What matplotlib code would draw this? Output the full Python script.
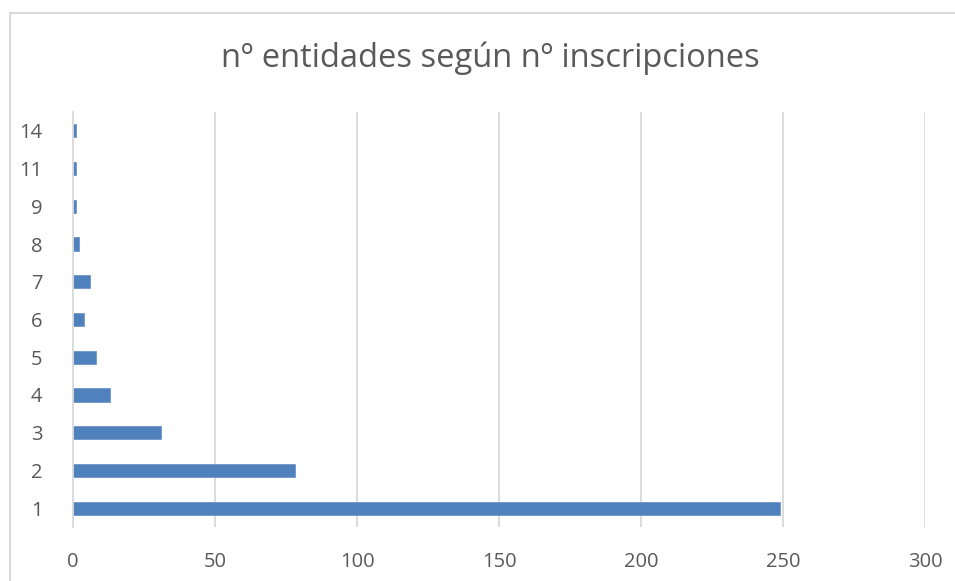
import matplotlib.pyplot as plt
from matplotlib.patches import Rectangle

plt.rcParams['font.family'] = ['Open Sans', 'DejaVu Sans']

# nº inscripciones (categorías) y nº entidades
categorias = ['1', '2', '3', '4', '5', '6', '7', '8', '9', '11', '14']
entidades = [249, 78, 31, 13, 8, 4, 6, 2, 1, 1, 1]
ticks_x = [0, 50, 100, 150, 200, 250, 300]

TEXT = '#595959'
GRID = '#D9D9D9'
BAR = '#4F81BD'

fig = plt.figure(figsize=(9.55, 5.81), dpi=100)
fig.patches.append(Rectangle((10 / 955, -0.1), 1.1, 1 - 13 / 581 + 0.1,
                             transform=fig.transFigure, fill=False,
                             edgecolor=GRID, lw=1.5))

# plot area in pixels: x 73..925, y 112..527
ax = fig.add_axes([73 / 955, 1 - 527 / 581, 852 / 955, 415 / 581])
pos = list(range(len(categorias)))
ax.barh(pos, entidades, height=0.35, color=BAR, edgecolor='#6E96CA', lw=0.6, zorder=3)

ax.set_xlim(0, 300)
ax.set_ylim(-0.5, len(categorias) - 0.5)
ax.set_xticks(ticks_x)
ax.set_yticks(pos)
ax.set_yticklabels(categorias)
ax.xaxis.grid(True, color=GRID, lw=1.3, zorder=0)
for s in ['top', 'right', 'bottom']:
    ax.spines[s].set_visible(False)
ax.spines['left'].set_color(GRID)
ax.spines['left'].set_linewidth(1.3)
ax.spines['left'].set_zorder(4)
ax.tick_params(axis='both', length=0, labelsize=14.5, labelcolor=TEXT)
ax.tick_params(axis='x', pad=18)
ax.tick_params(axis='y', pad=22)

fig.text(490 / 955, 1 - 58 / 581, 'nº entidades según nº inscripciones',
         ha='center', va='center', fontsize=23.5, color=TEXT)

fig.savefig('out.png', dpi=100)
